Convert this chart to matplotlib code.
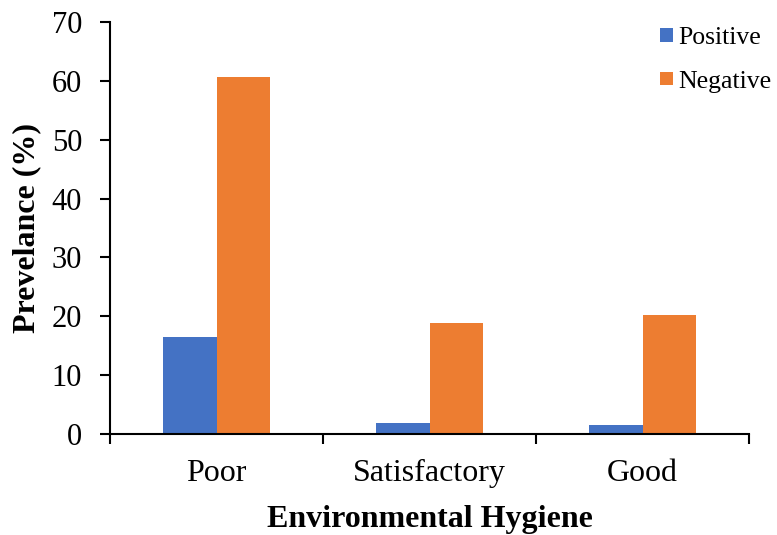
import matplotlib.pyplot as plt
import numpy as np

categories = ["Poor", "Satisfactory", "Good"]
positive = [16.5, 1.8, 1.5]
negative = [60.7, 18.8, 20.3]

plt.rcParams["font.family"] = ["Liberation Serif", "DejaVu Serif"]

fig = plt.figure(figsize=(7.77, 5.35), dpi=100)
ax = fig.add_axes([0.1416, 0.1888, 0.8224, 0.770])

x = np.arange(len(categories))
width = 0.25
ax.bar(x - width / 2, positive, width, color="#4472C4", label="Positive")
ax.bar(x + width / 2, negative, width, color="#ED7D31", label="Negative")

ax.set_xlim(-0.5, len(categories) - 0.5)
ax.set_ylim(0, 70)
ax.set_yticks(range(0, 71, 10))

# category boundaries carry the tick marks, labels sit at the centres
ax.set_xticks(np.arange(-0.5, len(categories), 1.0))
ax.set_xticklabels([])
ax.set_xticks(x, minor=True)
ax.set_xticklabels(categories, minor=True)
ax.tick_params(axis="x", which="major", length=7, width=1.5, direction="out")
ax.tick_params(axis="x", which="minor", length=0, pad=18, labelsize=23)
ax.tick_params(axis="y", length=7, width=1.5, direction="out", labelsize=22, pad=13)

for side in ("top", "right"):
    ax.spines[side].set_visible(False)
for side in ("left", "bottom"):
    ax.spines[side].set_linewidth(1.5)

ax.set_ylabel("Prevelance (%)", fontsize=23, fontweight="bold")
ax.yaxis.label.set_va("center")
ax.yaxis.set_label_coords(-0.131, 0.5)
ax.set_xlabel("Environmental Hygiene", fontsize=23, fontweight="bold")
ax.xaxis.label.set_va("center")
ax.xaxis.set_label_coords(0.5, -0.207)

ax.legend(loc="upper left", bbox_to_anchor=(660 / 777, 1 - 27 / 535),
          bbox_transform=fig.transFigure, frameon=False, borderpad=0,
          borderaxespad=0, fontsize=18.5, handlelength=0.5, handleheight=0.45,
          handletextpad=0.22, labelspacing=0.84)

fig.savefig("out.png", dpi=100)
